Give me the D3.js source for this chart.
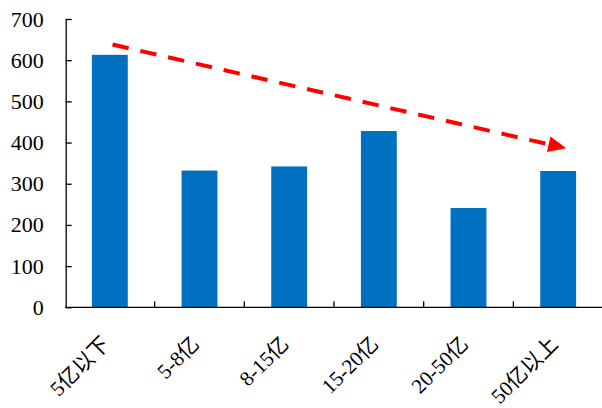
<!DOCTYPE html>
<html>
<head>
<meta charset="utf-8">
<script src="https://cdn.jsdelivr.net/npm/d3@7/dist/d3.min.js"></script>
<style>
  html, body { margin: 0; padding: 0; background: #fff; }
  svg { display: block; }
</style>
</head>
<body>
<svg id="chart" width="602" height="408"></svg>
<script>
// ---- data ----
const categories = ["5亿以下", "5-8亿", "8-15亿", "15-20亿", "20-50亿", "50亿以上"];
const values = [613, 332, 342, 428, 241, 331];
const yTicks = [0, 100, 200, 300, 400, 500, 600, 700];
// trend arrow endpoints: [band index offset from first band centre, value]
const arrowFrom = [0.03, 638];
const arrowTo = [5.09, 386];

const FONT = "Liberation Serif";
const CJK = "Noto Sans CJK SC";
const svg = d3.select("#chart");
const x = d3.scaleBand().domain(categories).range([65, 603]).paddingInner(0.6).paddingOuter(0.3);
const y = d3.scaleLinear().domain([0, 700]).range([307.3, 19]);

// bars
svg.append("g").selectAll("rect").data(values).join("rect")
  .attr("x", (d, i) => x(categories[i]))
  .attr("width", x.bandwidth())
  .attr("y", d => y(d))
  .attr("height", d => y(0) - y(d))
  .attr("fill", "#0070C0");

// y axis
const yAxis = d3.axisLeft(y).tickValues(yTicks).tickSizeInner(-6).tickSizeOuter(0).tickPadding(22);
const gy = svg.append("g").attr("transform", "translate(65.7,0)").call(yAxis);
gy.attr("font-family", FONT).attr("font-size", 22);
gy.select(".domain").attr("stroke", "#000").attr("stroke-width", 1.3);
gy.selectAll(".tick line").attr("stroke", "#000").attr("stroke-width", 1.3);
gy.selectAll(".tick text").style("font-family", FONT).style("font-size", "22px").attr("fill", "#000");

// x axis
const gx = svg.append("g");
const x0 = x.range()[0];
gx.append("line").attr("x1", x0).attr("x2", x.range()[1]).attr("y1", y(0)).attr("y2", y(0))
  .attr("stroke", "#000").attr("stroke-width", 1.3);
gx.selectAll("line.tk").data(d3.range(1, categories.length + 1)).join("line").attr("class", "tk")
  .attr("x1", k => x0 + k * x.step()).attr("x2", k => x0 + k * x.step())
  .attr("y1", y(0)).attr("y2", y(0) - 6)
  .attr("stroke", "#000").attr("stroke-width", 1.3);
const labels = gx.selectAll("text.xl").data(categories).join("text").attr("class", "xl")
  .attr("transform", d => `translate(${x(d) + x.bandwidth() / 2 + 1},${y(0) + 38}) rotate(-45)`)
  .attr("text-anchor", "end")
  .style("font-size", "21px")
  .attr("fill", "#000");
labels.each(function (d) {
  const runs = d.match(/[\u4e00-\u9fff]+|[^\u4e00-\u9fff]+/g);
  d3.select(this).selectAll("tspan").data(runs).join("tspan")
    .style("font-family", r => /[\u4e00-\u9fff]/.test(r) ? CJK : FONT)
    .text(r => r);
});

// trend arrow
const ax = i => x(categories[0]) + x.bandwidth() / 2 + i * x.step();
const p1 = [ax(arrowFrom[0]), y(arrowFrom[1])];
const p2 = [ax(arrowTo[0]), y(arrowTo[1])];
const dx = p2[0] - p1[0], dy = p2[1] - p1[1];
const len = Math.hypot(dx, dy);
const ux = dx / len, uy = dy / len;
const headLen = 18, headHalf = 8;
const base = [p2[0] - ux * headLen, p2[1] - uy * headLen];
svg.append("line")
  .attr("x1", p1[0]).attr("y1", p1[1]).attr("x2", base[0] + ux * 2).attr("y2", base[1] + uy * 2)
  .attr("stroke", "#FF0000").attr("stroke-width", 4).attr("stroke-dasharray", "16.5,12");
svg.append("polygon")
  .attr("points", [
    p2,
    [base[0] - uy * headHalf, base[1] + ux * headHalf],
    [base[0] + uy * headHalf, base[1] - ux * headHalf]
  ].map(p => p.join(",")).join(" "))
  .attr("fill", "#FF0000");
</script>
</body>
</html>
